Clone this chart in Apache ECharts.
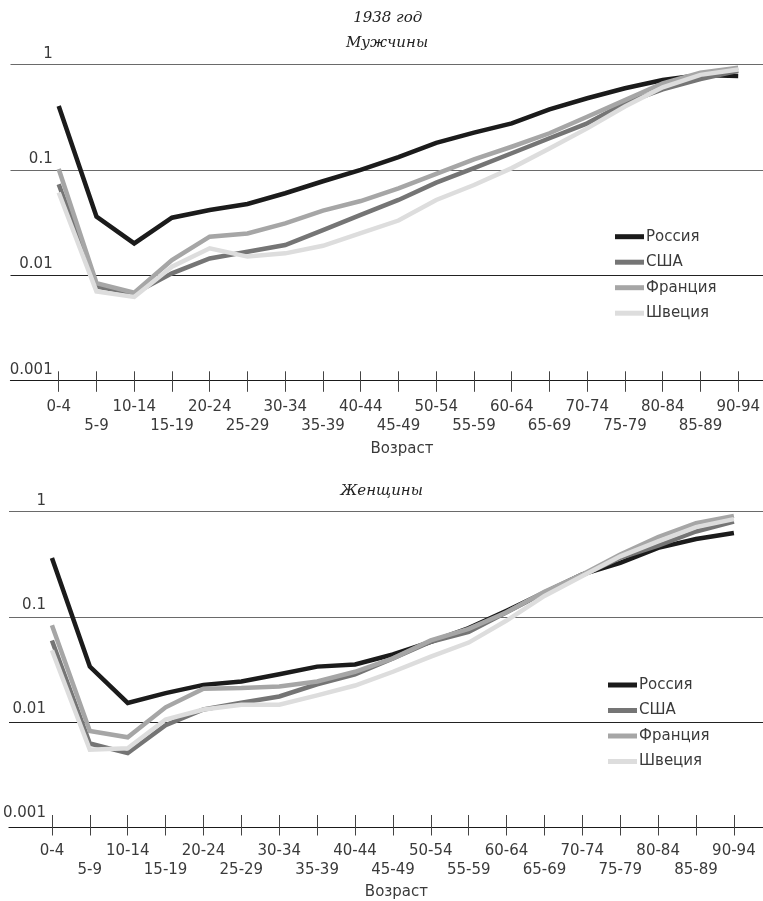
<!DOCTYPE html>
<html>
<head>
<meta charset="utf-8">
<script src="https://cdn.jsdelivr.net/npm/echarts@6/dist/echarts.min.js"></script>
<style>
html,body{margin:0;padding:0;background:#fff;}
#chart{width:763px;height:901px;}
</style>
</head>
<body>
<div id="chart"></div>
<script>
const categories = ['0-4','5-9','10-14','15-19','20-24','25-29','30-34','35-39','40-44','45-49',
  '50-54','55-59','60-64','65-69','70-74','75-79','80-84','85-89','90-94'];
const yTickLabels = ['0.001','0.01','0.1','1'];
const seriesNames = ['Россия','США','Франция','Швеция'];
const seriesColors = ['#1b1b1b','#757575','#a6a6a6','#dddddd'];
const chartTitle = '1938 год';
const menTitle = 'Мужчины';
const womenTitle = 'Женщины';
const xAxisName = 'Возраст';

// Men
const menRussia  = [0.405,0.036,0.020,0.0351,0.0416,0.0474,0.060,0.078,0.100,0.132,0.181,0.226,0.277,0.377,0.48,0.597,0.716,0.798,0.78];
const menUSA     = [0.073,0.0078,0.0067,0.0104,0.0144,0.0167,0.0193,0.0268,0.0373,0.0518,0.0756,0.104,0.144,0.20,0.277,0.43,0.583,0.731,0.877];
const menFrance  = [0.102,0.0084,0.0068,0.0139,0.0232,0.0249,0.031,0.041,0.0506,0.0668,0.0915,0.126,0.166,0.223,0.32,0.461,0.666,0.84,0.937];
const menSweden  = [0.061,0.0070,0.0062,0.012,0.018,0.015,0.0161,0.019,0.025,0.033,0.0518,0.0718,0.104,0.16,0.248,0.40,0.61,0.80,0.90];
// Women
const womenRussia = [0.36,0.0325,0.01455,0.0181,0.0217,0.0234,0.0274,0.0325,0.0341,0.0425,0.0563,0.0763,0.112,0.167,0.25,0.323,0.449,0.547,0.624];
const womenUSA    = [0.058,0.00593,0.0048,0.0089,0.0126,0.0146,0.0168,0.022,0.0274,0.039,0.0563,0.070,0.108,0.167,0.245,0.36,0.472,0.646,0.805];
const womenFrance = [0.081,0.00782,0.0068,0.0132,0.0199,0.0202,0.0209,0.0234,0.029,0.039,0.058,0.075,0.108,0.17,0.25,0.387,0.571,0.776,0.912];
const womenSweden = [0.0467,0.00517,0.00535,0.0101,0.0126,0.014,0.014,0.0172,0.0214,0.029,0.0405,0.0553,0.09,0.155,0.241,0.373,0.519,0.711,0.848];

const menData = [menRussia, menUSA, menFrance, menSweden];
const womenData = [womenRussia, womenUSA, womenFrance, womenSweden];

const FONT = 'DejaVu Sans';
const TXT = '#3a3a3a';

function yLabel(v){ return yTickLabels[Math.round(Math.log10(v)) + 3]; }

function panel(p){
  const grids = [
    {left:p.frameLeft, right:0, top:p.top, height:315.6},
    {left:p.dataLeft, right:p.dataRight, top:p.top, height:315.6}
  ];
  const xAxes = [
    {gridIndex:p.gi, type:'value', min:0, max:1, position:'bottom',
     axisLine:{show:true, onZero:false, lineStyle:{color:'#1a1a1a', width:1.2}},
     axisTick:{show:false}, axisLabel:{show:false}, splitLine:{show:false}},
    {gridIndex:p.gi+1, type:'category', data:categories, boundaryGap:false, position:'bottom',
     axisLine:{show:false, onZero:false},
     axisTick:{show:true, inside:false, length:11.5, interval:0, lineStyle:{color:'#444', width:1}},
     axisLabel:{show:true, interval:0, margin:17.5, fontFamily:FONT, fontSize:15, color:TXT, lineHeight:19,
       formatter:(v, i) => (i % 2 ? '\n' + v : v)},
     name:xAxisName, nameLocation:'middle', nameGap:61,
     nameTextStyle:{fontFamily:FONT, fontSize:15, color:TXT, padding:[0,0,0,7]},
     splitLine:{show:false}},
    {gridIndex:p.gi+1, type:'category', data:categories, boundaryGap:false, position:'bottom',
     axisLine:{show:false, onZero:false},
     axisTick:{show:true, inside:true, length:9, interval:0, lineStyle:{color:'#444', width:1}},
     axisLabel:{show:false}, splitLine:{show:false}}
  ];
  const yAxes = [
    {gridIndex:p.gi, type:'log', logBase:10, min:0.001, max:1,
     axisLine:{show:false}, axisTick:{show:false}, axisLabel:{show:false},
     splitLine:{show:true, lineStyle:{color:['#111','#222','#6a6a6a','#6a6a6a'], width:1.2}}},
    {gridIndex:p.gi+1, type:'log', logBase:10, min:0.001, max:1,
     axisLine:{show:false}, axisTick:{show:false}, splitLine:{show:false},
     axisLabel:{show:true, align:'right', verticalAlign:'bottom', margin:6, padding:[0,0,3,0],
       fontFamily:FONT, fontSize:15, color:TXT, formatter:yLabel, showMinLabel:true, showMaxLabel:true}}
  ];
  return {grids, xAxes, yAxes};
}

const menPanel = panel({top:64.7, frameLeft:10.5, dataLeft:58.7, dataRight:20.3, gi:0});
const womenPanel = panel({top:511.7, frameLeft:9, dataLeft:51.7, dataRight:29.1, gi:2});

const series = [];
[menData, womenData].forEach((set, k) => {
  set.forEach((arr, j) => {
    series.push({
      name: seriesNames[j], type:'line', data: arr,
      xAxisIndex: k === 0 ? 1 : 4, yAxisIndex: k === 0 ? 1 : 3,
      showSymbol:false, symbol:'none', smooth:false, animation:false,
      color: seriesColors[j],
      lineStyle:{color: seriesColors[j], width:4.5, join:'miter'}
    });
  });
});

function legend(left, topPos){
  return {
    orient:'vertical', left:left, top:topPos, padding:0, icon:'rect', itemWidth:29, itemHeight:5,
    itemGap:10.5, data:seriesNames, selectedMode:false,
    textStyle:{fontFamily:FONT, fontSize:15, color:TXT, lineHeight:15, padding:[0,0,0,-3]}
  };
}

const titleFont = 'italic 15px "DejaVu Serif"';
const option = {
  animation:false,
  backgroundColor:'#fff',
  grid:[...menPanel.grids, ...womenPanel.grids],
  xAxis:[...menPanel.xAxes, ...womenPanel.xAxes],
  yAxis:[...menPanel.yAxes, ...womenPanel.yAxes],
  legend:[legend(615, 229.2), legend(608, 677.5)],
  graphic:[
    {type:'text', x:387.7, y:18.3, style:{text:chartTitle, font:titleFont, fill:'#222', align:'center', verticalAlign:'middle'}},
    {type:'text', x:387, y:43.3, style:{text:menTitle, font:titleFont, fill:'#222', align:'center', verticalAlign:'middle'}},
    {type:'text', x:381.7, y:491, style:{text:womenTitle, font:titleFont, fill:'#222', align:'center', verticalAlign:'middle'}}
  ],
  series
};

const chart = echarts.init(document.getElementById('chart'), null, {renderer:'canvas'});
chart.setOption(option);
</script>
</body>
</html>
